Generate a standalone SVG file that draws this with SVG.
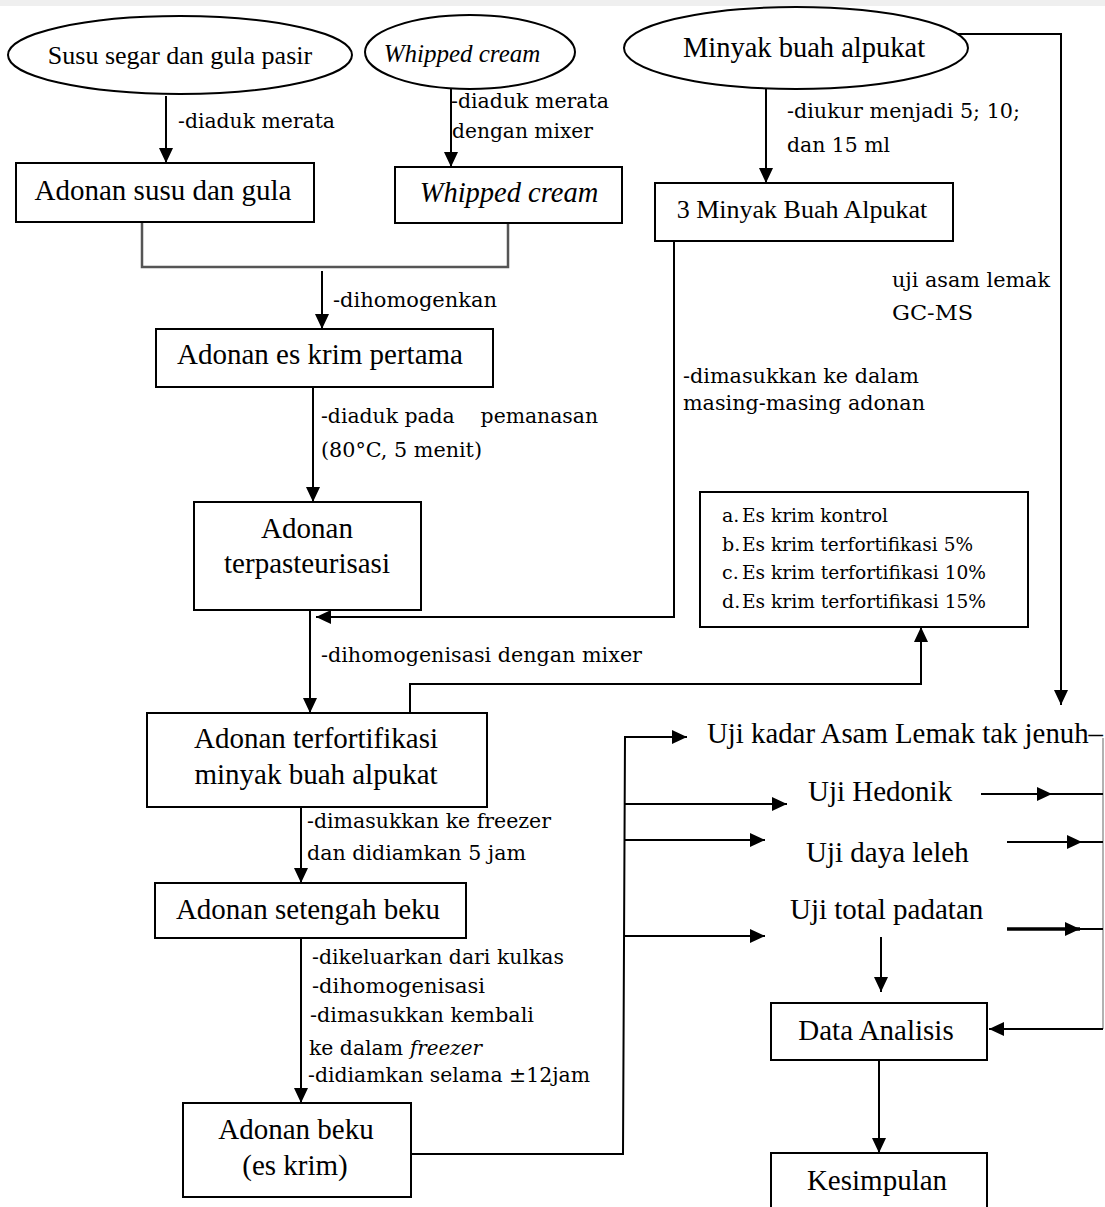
<svg xmlns="http://www.w3.org/2000/svg" width="1105" height="1207" viewBox="0 0 1105 1207">
<defs>
<style>
.shape{fill:#fff;stroke:#000;stroke-width:2}
.n{font-family:"Liberation Serif","Times New Roman",serif;fill:#000;text-anchor:middle}
.t{font-family:"Liberation Serif","Times New Roman",serif;fill:#000}
.a{font-family:"DejaVu Serif","Liberation Serif",serif;font-size:20px;fill:#000}
.l{font-family:"DejaVu Serif","Liberation Serif",serif;font-size:19px;fill:#000}
.c{fill:none;stroke:#000;stroke-width:2}
.g{fill:none;stroke:#555;stroke-width:2.5}
</style>
<marker id="ah" viewBox="0 0 15 14" refX="15" refY="7" markerWidth="15" markerHeight="14" markerUnits="userSpaceOnUse" orient="auto">
<path d="M0,0 L15,7 L0,14 z" fill="#000"/>
</marker>
</defs>
<rect x="0" y="0" width="1105" height="6" fill="#efefef"/>

<g id="connectors">
<line class="c" x1="166" y1="96" x2="166" y2="163" marker-end="url(#ah)"/>
<line class="c" x1="451" y1="89" x2="451" y2="167" marker-end="url(#ah)"/>
<line class="c" x1="766" y1="89" x2="766" y2="183" marker-end="url(#ah)"/>
<polyline class="c" points="958,34 1061,34 1061,705" marker-end="url(#ah)"/>
<polyline class="g" points="142,222 142,267 508,267 508,223"/>
<line class="c" x1="322" y1="271" x2="322" y2="329" marker-end="url(#ah)"/>
<line class="c" x1="313" y1="387" x2="313" y2="502" marker-end="url(#ah)"/>
<polyline class="c" points="674,241 674,617 316,617" marker-end="url(#ah)"/>
<line class="c" x1="310" y1="610" x2="310" y2="713" marker-end="url(#ah)"/>
<polyline class="c" points="410,713 410,684 921,684 921,627" marker-end="url(#ah)"/>
<line class="c" x1="301" y1="807" x2="301" y2="883" marker-end="url(#ah)"/>
<line class="c" x1="301" y1="938" x2="301" y2="1103" marker-end="url(#ah)"/>
<polyline class="c" points="411,1154 623,1154 625,737 687,737" marker-end="url(#ah)"/>
<line class="c" x1="625" y1="804" x2="787" y2="804" marker-end="url(#ah)"/>
<line class="c" x1="625" y1="840" x2="765" y2="840" marker-end="url(#ah)"/>
<line class="c" x1="624" y1="936" x2="765" y2="936" marker-end="url(#ah)"/>
<line x1="1103" y1="738" x2="1103" y2="1029" stroke="#999" stroke-width="1.5"/>
<line class="c" x1="1103" y1="1029" x2="989" y2="1029" marker-end="url(#ah)"/>
<line class="c" x1="981" y1="794" x2="1052" y2="794" marker-end="url(#ah)"/>
<line class="c" x1="1050" y1="794" x2="1103" y2="794"/>
<line class="c" x1="1007" y1="842" x2="1082" y2="842" marker-end="url(#ah)"/>
<line class="c" x1="1080" y1="842" x2="1103" y2="842"/>
<line x1="1007" y1="929" x2="1080" y2="929" stroke="#000" stroke-width="3.5" marker-end="url(#ah)"/>
<line class="c" x1="1078" y1="929" x2="1103" y2="929"/>
<line class="c" x1="881" y1="937" x2="881" y2="992" marker-end="url(#ah)"/>
<line class="c" x1="879" y1="1060" x2="879" y2="1153" marker-end="url(#ah)"/>
</g>

<g id="labels">
<text class="a" x="178" y="128" textLength="157" lengthAdjust="spacingAndGlyphs">-diaduk merata</text>
<text class="a" x="451" y="108" textLength="158" lengthAdjust="spacingAndGlyphs">-diaduk merata</text>
<text class="a" x="452" y="138" textLength="141" lengthAdjust="spacingAndGlyphs">dengan mixer</text>
<text class="a" x="787" y="118" textLength="233" lengthAdjust="spacingAndGlyphs">-diukur menjadi 5; 10;</text>
<text class="a" x="787" y="152" textLength="103" lengthAdjust="spacingAndGlyphs">dan 15 ml</text>
<text class="a" x="333" y="307" textLength="164" lengthAdjust="spacingAndGlyphs">-dihomogenkan</text>
<text class="a" x="892" y="287" textLength="158" lengthAdjust="spacingAndGlyphs">uji asam lemak</text>
<text class="a" x="892" y="320" textLength="81" lengthAdjust="spacingAndGlyphs">GC-MS</text>
<text class="a" x="683" y="383" textLength="236" lengthAdjust="spacingAndGlyphs">-dimasukkan ke dalam</text>
<text class="a" x="683" y="410" textLength="242" lengthAdjust="spacingAndGlyphs">masing-masing adonan</text>
<text class="a" x="321" y="423" textLength="277" lengthAdjust="spacingAndGlyphs" xml:space="preserve">-diaduk pada    pemanasan</text>
<text class="a" x="321" y="457" textLength="161" lengthAdjust="spacingAndGlyphs">(80°C, 5 menit)</text>
<text class="a" x="321" y="662" textLength="321" lengthAdjust="spacingAndGlyphs">-dihomogenisasi dengan mixer</text>
<text class="a" x="307" y="828" textLength="244" lengthAdjust="spacingAndGlyphs">-dimasukkan ke freezer</text>
<text class="a" x="307" y="860" textLength="219" lengthAdjust="spacingAndGlyphs">dan didiamkan 5 jam</text>
<text class="a" x="312" y="964" textLength="252" lengthAdjust="spacingAndGlyphs">-dikeluarkan dari kulkas</text>
<text class="a" x="312" y="993" textLength="173" lengthAdjust="spacingAndGlyphs">-dihomogenisasi</text>
<text class="a" x="310" y="1022" textLength="224" lengthAdjust="spacingAndGlyphs">-dimasukkan kembali</text>
<text class="a" x="309" y="1055" textLength="94" lengthAdjust="spacingAndGlyphs">ke dalam</text>
<text class="a" x="410" y="1055" font-style="italic" textLength="72" lengthAdjust="spacingAndGlyphs">freezer</text>
<text class="a" x="308" y="1082" textLength="282" lengthAdjust="spacingAndGlyphs">-didiamkan selama ±12jam</text>
</g>

<g id="n-susu">
<ellipse class="shape" cx="180" cy="55" rx="172" ry="39"/>
<text class="n" x="180" y="64" font-size="26">Susu segar dan gula pasir</text>
</g>
<g id="n-whipped">
<ellipse class="shape" cx="470" cy="52" rx="105" ry="37"/>
<text class="n" x="462" y="62" font-size="25" font-style="italic">Whipped cream</text>
</g>
<g id="n-minyak">
<ellipse class="shape" cx="796" cy="48" rx="172" ry="41"/>
<text class="n" x="804" y="57" font-size="28.5">Minyak buah alpukat</text>
</g>
<g id="n-adonan-susu">
<rect class="shape" x="16" y="163" width="298" height="59"/>
<text class="n" x="163" y="200" font-size="29">Adonan susu dan gula</text>
</g>
<g id="n-whipped-box">
<rect class="shape" x="395" y="167" width="227" height="56"/>
<text class="n" x="509" y="202" font-size="28.5" font-style="italic">Whipped cream</text>
</g>
<g id="n-3minyak">
<rect class="shape" x="655" y="183" width="298" height="58"/>
<text class="n" x="802" y="218" font-size="26">3 Minyak Buah Alpukat</text>
</g>
<g id="n-pertama">
<rect class="shape" x="156" y="329" width="337" height="58"/>
<text class="n" x="320" y="364" font-size="29">Adonan es krim pertama</text>
</g>
<g id="n-pasteur">
<rect class="shape" x="194" y="502" width="227" height="108"/>
<text class="n" x="307" y="538" font-size="29">Adonan</text>
<text class="n" x="307" y="573" font-size="29">terpasteurisasi</text>
</g>
<g id="n-list">
<rect class="shape" x="700" y="492" width="328" height="135"/>
<text class="l" x="722" y="522">a.</text><text class="l" x="742" y="522" textLength="146" lengthAdjust="spacingAndGlyphs">Es krim kontrol</text>
<text class="l" x="722" y="551">b.</text><text class="l" x="742" y="551" textLength="231" lengthAdjust="spacingAndGlyphs">Es krim terfortifikasi 5%</text>
<text class="l" x="722" y="579">c.</text><text class="l" x="742" y="579" textLength="244" lengthAdjust="spacingAndGlyphs">Es krim terfortifikasi 10%</text>
<text class="l" x="722" y="608">d.</text><text class="l" x="742" y="608" textLength="244" lengthAdjust="spacingAndGlyphs">Es krim terfortifikasi 15%</text>
</g>
<g id="n-fortif">
<rect class="shape" x="147" y="713" width="340" height="94"/>
<text class="n" x="316" y="748" font-size="29">Adonan terfortifikasi</text>
<text class="n" x="316" y="784" font-size="29">minyak buah alpukat</text>
</g>
<g id="n-setengah">
<rect class="shape" x="155" y="883" width="311" height="55"/>
<text class="n" x="308" y="919" font-size="29">Adonan setengah beku</text>
</g>
<g id="n-beku">
<rect class="shape" x="183" y="1103" width="228" height="94"/>
<text class="n" x="296" y="1139" font-size="29">Adonan beku</text>
<text class="n" x="295" y="1175" font-size="29">(es krim)</text>
</g>
<g id="n-ujikadar">
<text class="t" x="707" y="743" font-size="28.5" textLength="396" lengthAdjust="spacingAndGlyphs">Uji kadar Asam Lemak tak jenuh–</text>
</g>
<g id="n-hedonik">
<text class="t" x="808" y="801" font-size="29">Uji Hedonik</text>
</g>
<g id="n-leleh">
<text class="t" x="806" y="862" font-size="29">Uji daya leleh</text>
</g>
<g id="n-padatan">
<text class="t" x="790" y="919" font-size="29">Uji total padatan</text>
</g>
<g id="n-data">
<rect class="shape" x="771" y="1003" width="216" height="57"/>
<text class="n" x="876" y="1040" font-size="29">Data Analisis</text>
</g>
<g id="n-kesimpulan">
<rect class="shape" x="771" y="1153" width="216" height="70"/>
<text class="n" x="877" y="1190" font-size="29">Kesimpulan</text>
</g>
</svg>
